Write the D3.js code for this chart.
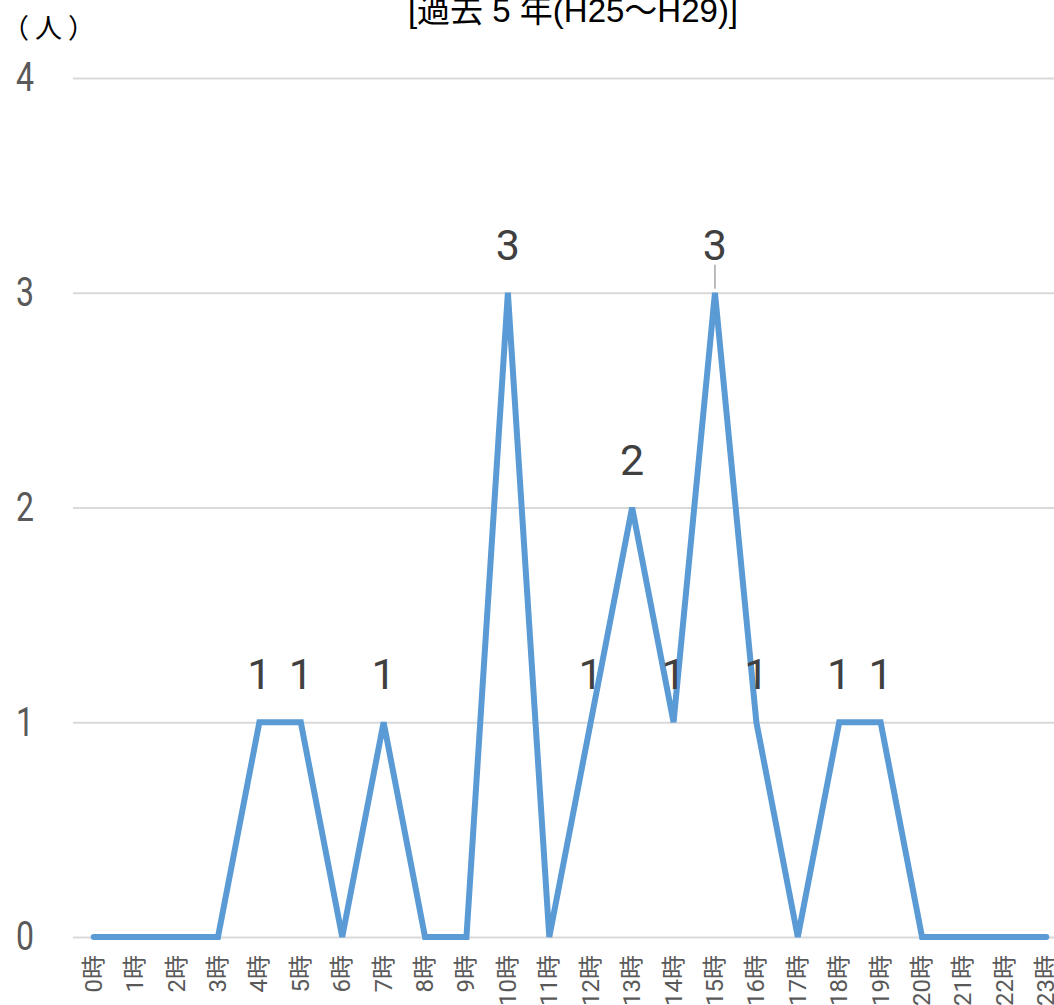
<!DOCTYPE html>
<html>
<head>
<meta charset="utf-8">
<script src="https://cdn.jsdelivr.net/npm/d3@7"></script>
<style>
  body { margin: 0; background: #fff; }
  svg { display: block; }
</style>
</head>
<body>
<svg width="1054" height="1005"></svg>
<script>
const hours = ['0時','1時','2時','3時','4時','5時','6時','7時','8時','9時','10時','11時',
  '12時','13時','14時','15時','16時','17時','18時','19時','20時','21時','22時','23時'];
const counts = [0,0,0,0,1,1,0,1,0,0,3,0,1,2,1,3,1,0,1,1,0,0,0,0];
const yTicks = [0, 1, 2, 3, 4];
const title = '[過去 5 年(H25～H29)]';
const yUnit = '（人）';

const svg = d3.select('svg');
const width = +svg.attr('width');
const height = +svg.attr('height');

const margin = { top: 78, right: -13, bottom: 68, left: 73 };
const innerWidth = width - margin.left - margin.right;
const innerHeight = height - margin.top - margin.bottom;

const g = svg.append('g')
  .attr('transform', `translate(${margin.left},${margin.top})`);

const xScale = d3.scaleBand()
  .domain(hours)
  .range([0, innerWidth]);

const yScale = d3.scaleLinear()
  .domain([0, 4])
  .range([innerHeight, 0]);

// grid + y labels (narrow digits like the original)
const sx = 0.8;
const yAxis = d3.axisLeft(yScale)
  .tickValues(yTicks)
  .tickSize(-innerWidth)
  .tickPadding(39 / sx)
  .tickFormat(d3.format('d'));

const yAxisG = g.append('g').call(yAxis);
yAxisG.select('.domain').remove();
yAxisG.selectAll('.tick line').attr('stroke', '#d9d9d9').attr('stroke-width', 2);
yAxisG.selectAll('.tick text')
  .attr('fill', '#595959')
  .style('font-family', 'Roboto, sans-serif')
  .style('font-size', '40px')
  .attr('transform', `scale(${sx},1)`);

// x labels, rotated, cut by the bottom edge as in the original
const xAxis = d3.axisBottom(xScale).tickSize(0).tickPadding(0);
const xAxisG = g.append('g')
  .attr('transform', `translate(0,${innerHeight})`)
  .call(xAxis);
xAxisG.select('.domain').remove();
xAxisG.selectAll('.tick text')
  .attr('fill', '#595959')
  .style('font-family', 'Roboto, "Noto Sans CJK JP", sans-serif')
  .style('font-size', '24px')
  .attr('text-anchor', 'end')
  .attr('dy', null)
  .attr('transform', 'translate(8,18) rotate(-90)');

const xPos = d => xScale(d) + xScale.bandwidth() / 2;

const line = d3.line()
  .x((d, i) => xPos(hours[i]))
  .y(d => yScale(d));

g.append('path')
  .datum(counts)
  .attr('fill', 'none')
  .attr('stroke', '#5b9bd5')
  .attr('stroke-width', 6)
  .attr('stroke-linejoin', 'miter')
  .attr('stroke-linecap', 'round')
  .attr('d', line);

// data labels (zero values are hidden)
const labelled = counts.map((v, i) => ({ v, h: hours[i] })).filter(d => d.v > 0);

g.selectAll('.leader')
  .data(labelled.filter(d => d.h === '15時'))
  .enter().append('line')
  .attr('x1', d => xPos(d.h))
  .attr('x2', d => xPos(d.h))
  .attr('y1', d => yScale(d.v) - 28)
  .attr('y2', d => yScale(d.v) - 4)
  .attr('stroke', '#a6a6a6')
  .attr('stroke-width', 1.5);

g.selectAll('.dlabel')
  .data(labelled)
  .enter().append('text')
  .attr('x', d => xPos(d.h))
  .attr('y', d => yScale(d.v) - 33)
  .attr('text-anchor', 'middle')
  .attr('fill', '#404040')
  .style('font-family', 'Roboto, sans-serif')
  .style('font-size', '43px')
  .text(d => d.v);

svg.append('text')
  .attr('x', 573)
  .attr('y', 22)
  .attr('text-anchor', 'middle')
  .attr('fill', '#000')
  .style('font-family', '"Liberation Sans", "Noto Sans CJK JP", sans-serif')
  .style('font-size', '33px')
  .text(title);

svg.append('text')
  .attr('x', 2)
  .attr('y', 38)
  .attr('fill', '#000')
  .style('font-family', '"Noto Sans CJK JP", sans-serif')
  .style('font-size', '27px')
  .style('letter-spacing', '6px')
  .text(yUnit);
</script>
</body>
</html>
